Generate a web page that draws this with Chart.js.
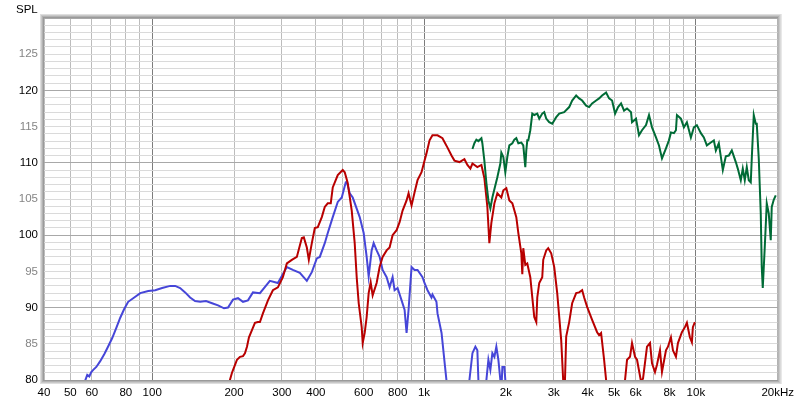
<!DOCTYPE html>
<html><head><meta charset="utf-8">
<script src="https://cdn.jsdelivr.net/npm/chart.js@4.4.1/dist/chart.umd.min.js"></script>
<style>html,body{margin:0;padding:0;background:#fff;}canvas{display:block;}</style>
</head><body>
<canvas id="c" width="800" height="405"></canvas>
<script>
// ---- tick definitions ----
const xTickValues = [40,50,60,70,80,90,100,200,300,400,500,600,700,800,900,1000,2000,3000,4000,5000,6000,7000,8000,9000,10000,20000];
const xTickLabels = ['40','50','60','','80','','100','200','300','400','','600','','800','','1k','2k','3k','4k','5k','6k','','8k','','10k','20kHz'];
const yMin = 80, yMax = 130;
const yAxisTitle = 'SPL';

// ---- blue series ----
const blueFreq = [55.5,56.8,57.7,58.7,59.7,60.7,62.3,64.4,66.7,69.0,71.3,73.8,76.3,78.9,81.6,85.9,90.4,96.7,102.6,108.8,116.5,121.5,126.7,132.2,137.9,143.8,150.1,157.8,166.1,174.7,183.8,190.1,198.3,206.9,215.8,225.1,234.8,249.1,271.0,290.0,312.9,329.2,349.3,370.6,386.6,403.3,413.6,431.4,442.5,461.6,481.6,498.2,515.3,519.7,533.0,546.7,580.0,599.8,615.2,625.7,641.7,652.7,669.4,686.6,704.2,728.5,747.1,766.3,779.4,799.4,826.9,848.1,862.6,877.3,899.8,922.8,946.5,987.4,1004,1030,1065,1074,1111,1121,1160,1195,1209,1240,1440,1469,1507,1545,1571,1585,1610,1675,1696,1725,1754,1784,1815,1845,1877,1909,1925,1942,1975,1991,2010];
const blueSpl  = [77,80.0,80.7,80.5,81.1,81.4,81.8,82.6,83.6,84.7,85.8,87.2,88.6,89.8,90.8,91.4,92.0,92.3,92.4,92.7,93.0,93.0,92.7,92.1,91.4,90.9,90.8,90.9,90.6,90.3,89.9,90.0,91.1,91.3,90.8,91.0,92.1,92.0,93.7,93.4,95.6,95.2,94.8,93.7,94.9,96.8,97.0,98.9,100.3,102.5,104.6,105.2,107.3,107.4,105.8,105.2,102.5,100.3,97.0,94.3,97.9,98.9,97.9,97.0,95.2,94.2,92.8,94.2,92.4,92.7,91.0,89.7,86.5,89.7,95.6,95.2,95.2,94.2,93.4,92.4,91.4,91.8,90.8,89.2,86.5,81.8,80.0,75,75,80.0,83.7,84.6,84.1,80.0,76,76,80.0,82.8,81.4,83.7,83.2,84.6,82.8,80.0,78.5,81.8,81.8,80.0,76];

// ---- red series ----
const redFreq = [188,193.2,196.6,201.7,205.1,210.4,215.8,219.4,223.2,227.0,232.8,238.8,244.9,249.1,255.5,266.6,278.0,290.0,302.5,312.9,326.4,340.5,355.2,361.3,370.6,376.9,386.6,396.5,406.7,420.7,431.4,442.5,453.9,461.6,481.6,502.3,510.9,524.0,542.1,555.9,565.4,575.1,589.8,594.9,605.0,615.2,625.7,636.4,647.2,669.4,686.6,704.2,728.5,747.1,766.3,792.7,813.1,834.0,862.6,877.3,899.8,922.8,946.5,979.1,1004,1021,1048,1074,1121,1169,1220,1262,1294,1350,1408,1444,1481,1507,1571,1626,1667,1710,1739,1769,1815,1861,1925,1958,2008,2060,2113,2185,2223,2280,2299,2318,2358,2398,2460,2502,2544,2588,2610,2654,2722,2745,2815,2863,2937,3013,3090,3196,3250,3280,3300,3334,3420,3507,3628,3721,3817,3882,3981,4153,4332,4406,4481,4596,4675,4750,5380,5488,5583,5725,5823,5973,6075,6284,6391,6611,6781,6897,7073,7194,7379,7505,7763,7895,8097,8235,8446,8590,8885,9114,9268,9506,9668,9750,9916];
const redSpl  = [77,80.0,81.0,82.1,82.8,83.2,83.3,83.7,84.6,85.9,86.9,87.9,88.0,88.0,89.2,91.0,92.4,92.8,94.2,96.1,96.6,97.0,99.6,99.7,98.3,96.6,98.9,101.0,101.1,102.5,103.9,104.4,104.4,106.6,108.3,109.0,108.7,107.2,103.4,98.9,94.2,90.6,87.3,85.1,86.5,88.7,92.0,93.5,91.7,93.4,95.6,97.0,97.9,98.3,100.0,100.7,101.8,103.4,104.8,105.8,104.1,105.9,107.6,108.7,110.3,111.3,113.1,113.8,113.8,113.4,112.1,111.0,110.3,110.1,110.5,109.7,109.2,109.9,109.4,109.7,107.9,103.9,98.9,101.7,104.4,105.8,105.2,106.2,106.5,104.8,104.4,102.5,100.3,97.5,94.6,98.2,95.9,96.1,94.2,91.4,88.7,88.0,91.4,93.4,94.2,96.6,97.9,98.2,97.5,95.6,92.0,85.5,80.0,77,80,86.0,88.0,90.6,92.0,92.1,92.4,91.4,90.1,88.3,86.6,86.2,86.5,82.8,80.0,76,76,80.0,82.8,83.2,85.1,83.2,82.8,79.8,80.2,84.6,85.1,82.3,81.1,82.1,84.1,81.1,84.1,84.6,85.9,84.1,83.2,85.1,86.6,87.3,87.9,85.9,85.2,87.3,88.0];

// ---- green series ----
const greenFreq = [1507,1532,1558,1585,1626,1639,1667,1696,1725,1754,1784,1830,1861,1909,1925,1958,1991,2025,2060,2113,2149,2185,2223,2280,2318,2358,2378,2398,2419,2460,2502,2544,2610,2654,2722,2768,2815,2887,2962,3064,3143,3278,3420,3507,3628,3721,3817,3947,4049,4153,4296,4406,4519,4675,4795,4918,5045,5174,5307,5443,5583,5774,5823,6023,6177,6336,6556,6724,6897,7133,7317,7505,7763,7961,8097,8305,8446,8518,8810,9036,9268,9587,9833,10085,10433,10700,10975,11353,11645,11843,12147,12565,12887,13218,13558,14025,14263,14630,14879,15133,15391,15654,15921,16056,16330,16608,16749,17035,17326,17473,17622,17922,18229,18540,18856,19017,19341,19672];
const greenSpl  = [111.9,112.7,113.2,113.0,113.4,112.7,110.3,107.2,104.8,103.7,105.2,106.9,108.0,109.9,111.4,110.8,108.7,110.8,112.4,112.7,113.2,113.4,112.7,112.8,112.4,109.4,111.7,113.1,113.1,114.5,116.8,116.6,116.8,116.1,116.8,117.0,116.1,115.6,115.4,116.3,116.8,117.0,117.7,118.6,119.3,118.9,118.6,117.9,117.7,118.2,118.6,118.9,119.3,119.7,118.9,118.6,116.8,117.7,118.2,117.2,117.5,117.0,115.6,116.1,113.8,114.5,115.2,116.6,114.9,113.5,112.4,110.6,112.0,113.1,114.2,114.1,114.5,116.6,116.1,114.9,115.6,113.5,114.9,115.2,114.1,113.5,112.4,112.8,113.1,111.7,112.7,109.0,110.9,111.0,111.7,110.1,109.2,107.6,109.2,107.6,109.4,107.6,107.3,110.6,116.6,115.4,115.4,110.6,103.0,95.6,92.7,98.3,104.4,103.0,99.3,103.9,104.9,105.5];

const toPoints = (fs, vs) => fs.map((f, i) => ({x: f, y: vs[i]}));

const FONT = {family: '"Liberation Sans", Arial, sans-serif', size: 11.5};

const framePlugin = {
  id: 'frame',
  afterDraw(chart) {
    const {ctx, chartArea: a} = chart;
    ctx.save();
    ctx.lineWidth = 1;
    const cols = ['#9a9a9a', '#b2b2b2', '#c8c8c8', '#dedede'];
    cols.forEach((c, k) => {
      ctx.strokeStyle = c;
      ctx.strokeRect(a.left - k - 0.5, a.top - k - 0.5, a.right - a.left + 2 * k + 1, a.bottom - a.top + 2 * k + 1);
    });
    ctx.fillStyle = '#000';
    ctx.font = '11.5px "Liberation Sans", Arial, sans-serif';
    ctx.textAlign = 'left';
    ctx.textBaseline = 'alphabetic';
    ctx.fillText(yAxisTitle, 16, 13);
    ctx.restore();
  }
};

new Chart(document.getElementById('c'), {
  type: 'line',
  data: {
    datasets: [
      {data: toPoints(greenFreq, greenSpl), borderColor: '#006b36', borderWidth: 2},
      {data: toPoints(redFreq, redSpl), borderColor: '#b80000', borderWidth: 2},
      {data: toPoints(blueFreq, blueSpl), borderColor: '#4646d8', borderWidth: 2}
    ]
  },
  options: {
    responsive: false,
    animation: false,
    devicePixelRatio: 1,
    events: [],
    elements: {point: {radius: 0}, line: {tension: 0}},
    layout: {padding: {left: 0, right: 21, top: 18, bottom: 0}},
    plugins: {legend: {display: false}, tooltip: {enabled: false}},
    scales: {
      x: {
        type: 'logarithmic',
        min: 40, max: 20000,
        afterBuildTicks: (s) => { s.ticks = xTickValues.map(v => ({value: v})); },
        afterFit: (s) => { s.height = 25; },
        border: {display: false},
        grid: {
          drawTicks: false,
          color: (c) => (c.tick && [100, 1000, 10000].includes(c.tick.value)) ? '#7c7c7c' : '#bcbcbc'
        },
        ticks: {
          autoSkip: false, maxRotation: 0, minRotation: 0, padding: 6,
          color: '#000', font: FONT,
          callback: (v) => { const i = xTickValues.indexOf(v); return i >= 0 ? xTickLabels[i] : ''; }
        }
      },
      y: {
        type: 'linear',
        min: yMin, max: yMax,
        afterFit: (s) => { s.width = 44; },
        border: {display: false},
        grid: {
          drawTicks: false,
          color: (c) => (c.tick && c.tick.value % 10 === 0) ? '#a8a8a8' : '#dadada'
        },
        ticks: {
          stepSize: 1, autoSkip: false, padding: 6, font: FONT,
          color: (c) => (c.tick && c.tick.value % 10 === 0) ? '#000' : '#858585',
          callback: (v) => (v % 5 === 0 && v !== yMax) ? String(v) : ''
        }
      }
    }
  },
  plugins: [framePlugin]
});
</script>
</body></html>
